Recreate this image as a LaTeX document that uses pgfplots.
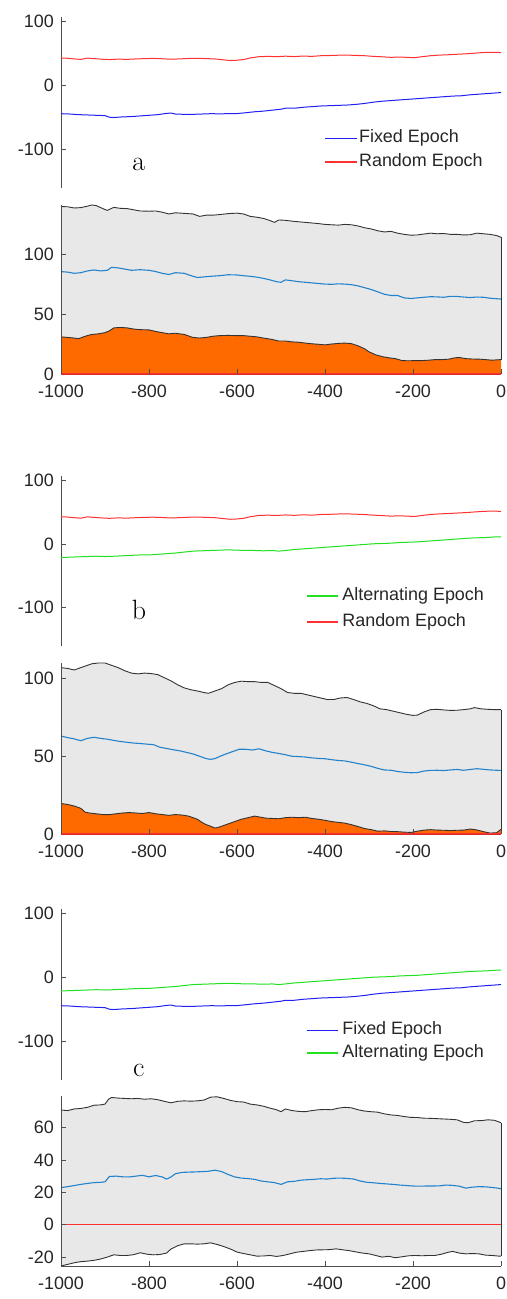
\documentclass[border=0pt]{standalone}
\usepackage{fontspec}
\usepackage{pgfplots}
\usepackage{pgfplotstable}
\pgfplotsset{compat=1.18}
\usepgfplotslibrary{fillbetween}
\newfontfamily\tickfont{Liberation Sans}
\definecolor{axgray}{HTML}{4D4D4D}
\definecolor{txtgray}{HTML}{262626}
\definecolor{gfill}{HTML}{E8E8E8}
\definecolor{orng}{HTML}{FF6A00}
\definecolor{midblue}{HTML}{2283CC}
\definecolor{edge}{HTML}{333333}
\definecolor{lblue}{HTML}{2020F0}
\definecolor{lred}{HTML}{FF3030}
\definecolor{lgreen}{HTML}{20E020}

% ---------- top panels ----------
\pgfplotstableread{
x y
-1000 -44
-980 -44.5
-960 -45.5
-940 -46
-920 -46.5
-900 -47
-890 -49.5
-880 -50
-860 -49
-840 -48.5
-820 -47.5
-800 -46.5
-780 -45.5
-760 -43.5
-750 -43
-740 -44.5
-720 -45
-700 -45
-680 -44.5
-660 -44
-640 -44.2
-620 -44
-600 -43.8
-580 -42.5
-560 -41
-540 -40
-520 -38.5
-500 -37
-490 -35.5
-470 -35.5
-450 -34
-430 -33
-410 -32
-390 -31.5
-370 -31
-350 -30.5
-330 -29.5
-310 -28
-290 -26
-270 -24.5
-250 -23.5
-230 -22.5
-210 -21.5
-190 -20.5
-170 -19.5
-150 -18.5
-130 -17.5
-110 -16.5
-90 -16
-70 -14.5
-50 -13.5
-30 -12.5
-10 -11.5
0 -11
}\fixedT
\pgfplotstableread{
x y
-1000 43
-985 42.5
-970 41.5
-955 40.8
-940 42.8
-925 42
-905 41
-890 40.5
-870 41.2
-850 40.8
-830 41.5
-810 42
-790 42.3
-770 41.8
-750 41
-730 41.6
-710 42.2
-690 42.5
-670 42
-650 41.5
-630 40
-615 39
-600 39.5
-585 40.5
-570 43
-550 45
-530 45.5
-510 45
-490 45.8
-470 45.2
-450 46
-430 45.5
-410 46.5
-390 46.8
-370 47.3
-350 47.5
-330 47
-310 46.5
-290 45.5
-270 44.8
-250 44
-230 44.5
-210 43.8
-195 43.5
-180 45
-160 46.5
-140 47.5
-120 48
-100 48.8
-80 49.5
-60 50.5
-40 51.5
-20 51.8
0 51.5
}\randomT
\pgfplotstableread{
x y
-1000 -21
-960 -20
-920 -19
-900 -19.5
-880 -19
-850 -18
-820 -17
-800 -17
-780 -16
-760 -15
-740 -14
-720 -12.5
-700 -11
-680 -10.5
-660 -10
-640 -9.5
-620 -9
-600 -9.5
-580 -10
-560 -10
-540 -10.5
-520 -10
-505 -11
-490 -10
-470 -8.5
-450 -7.5
-430 -6.5
-410 -5.5
-390 -4.5
-370 -3.5
-350 -2.5
-330 -1.5
-310 -0.5
-290 0.5
-270 1
-250 1.5
-230 2.5
-210 3
-190 3.5
-170 4.5
-150 5.5
-130 6.5
-110 7.5
-90 8.5
-70 9.5
-50 10
-30 10.5
-10 11.5
0 11.5
}\altT

% ---------- panel a bottom ----------
\pgfplotstableread{
x y
-1000 139.7
-985 139.5
-970 138.5
-955 138.8
-940 140
-930 141
-920 140.5
-905 138
-895 136.5
-880 139
-865 138.2
-850 138
-835 137
-820 136
-800 135.8
-785 136
-770 135
-755 133.5
-740 134.5
-720 134
-700 133.5
-685 131.5
-670 132.5
-655 132.5
-640 133
-620 133.8
-600 134.2
-585 133.5
-570 131.5
-555 130.8
-540 129.8
-525 128
-515 126.5
-505 128.5
-490 128.2
-475 127.5
-460 127
-445 126.5
-430 126
-415 125.5
-400 124.8
-385 124.5
-370 124.2
-355 124.8
-340 124.5
-325 123.5
-310 122
-295 121
-280 119.5
-265 118.5
-250 119
-235 117.5
-220 116.5
-205 115.8
-190 116
-175 116.8
-160 117.5
-145 117
-130 117.2
-115 116.5
-100 116.5
-85 116
-70 116.2
-55 117.5
-40 117
-25 116.5
-10 115.5
0 114
}\aUp
\pgfplotstableread{
x y
-1000 85.4
-985 85
-970 84
-955 84.5
-940 86
-925 86.8
-910 86
-895 86.5
-885 89
-870 88.5
-855 87.5
-840 86.5
-820 87
-800 86.5
-785 85.5
-770 84
-755 83
-740 84.5
-720 84
-700 81.5
-690 80.5
-675 81
-660 81.5
-640 82
-620 82.8
-600 82.6
-585 82
-570 81.5
-555 80.8
-540 79.8
-525 78.5
-510 77
-500 76.5
-490 78.5
-475 77.8
-460 77
-445 76.5
-430 76
-415 75.5
-400 75
-385 74.8
-370 75.2
-355 75
-340 74.5
-325 73.5
-310 72
-295 70.5
-280 68.5
-265 66.5
-250 65.5
-235 65.5
-220 63.5
-205 63
-190 63.5
-175 64
-160 64.5
-145 64.3
-130 64
-115 64.8
-100 64.7
-85 64.2
-70 63.8
-55 64.2
-40 64
-25 63.2
-10 62.8
0 62.5
}\aMid
\pgfplotstableread{
x y
-1000 31
-985 30.5
-970 30
-960 29.5
-945 31.5
-930 33
-915 33.5
-900 34.5
-890 36
-880 38.5
-865 38.8
-850 38.5
-835 37.5
-820 37
-800 36.8
-785 35.5
-770 34.5
-755 33.5
-740 34
-720 33
-700 30.5
-685 30
-670 30.5
-655 31.5
-640 32
-620 32.2
-600 32
-585 32
-570 31.5
-555 31
-540 30
-520 28.8
-505 27.5
-490 27.5
-475 26.8
-460 26.5
-445 25.8
-430 25.2
-415 24.8
-400 24.3
-385 25
-370 25.5
-355 25.8
-340 25.3
-325 23.5
-310 21
-300 18.5
-285 16
-270 14.5
-255 13.5
-240 12.8
-225 11.2
-210 11
-195 11.2
-180 11.2
-165 11.5
-150 12
-135 12
-120 12.3
-105 13.5
-95 13.8
-80 12.8
-65 12.5
-50 12.4
-35 12
-20 11.5
-10 11.8
0 12
}\aLo

% ---------- panel b bottom ----------
\pgfplotstableread{
x y
-1000 107
-985 106.5
-970 105.5
-960 106.5
-945 108
-930 109.5
-915 110
-900 110
-885 108.5
-870 107
-855 105
-840 103.5
-825 103
-810 103.5
-795 103.2
-780 102.5
-765 100.5
-750 98.5
-735 96
-720 94
-705 92.8
-690 92
-675 91
-665 90.5
-650 92
-635 93.5
-620 96
-605 97.5
-590 98.3
-575 98
-560 98
-545 97.5
-530 97.5
-515 95.5
-500 93.5
-485 91
-470 90.5
-455 90.5
-440 89.5
-425 88.5
-410 87.5
-395 86.5
-380 86.5
-365 87.5
-350 87.8
-335 86.5
-320 85
-305 84
-290 82.5
-275 80.5
-260 80
-245 79
-230 78
-215 77
-200 76.3
-190 76.5
-175 78.5
-160 80
-145 80.2
-130 79.8
-115 79.5
-100 79.6
-85 80
-70 80.5
-60 81.3
-45 80.5
-30 80.2
-15 80
0 80
}\bUp
\pgfplotstableread{
x y
-1000 63
-985 62
-970 61.2
-955 60
-940 61.5
-925 62.2
-910 61.5
-895 61
-880 60.2
-865 59.5
-850 59
-835 58.5
-820 58.2
-805 57.8
-790 57.5
-775 55.8
-760 55
-745 54.2
-730 53.5
-715 52.5
-700 51.5
-685 50
-670 48.5
-660 48
-650 48.5
-640 49.8
-625 51.5
-610 53
-595 54.5
-580 54.5
-565 54
-550 54.8
-535 53.5
-520 52.5
-505 51.8
-490 51
-475 50
-460 49.8
-445 49.5
-430 49
-415 48.6
-400 48.4
-385 47.8
-370 47.3
-355 47
-340 46.2
-325 45.3
-310 44.5
-295 43.5
-280 42.2
-265 41.2
-250 41
-235 40.2
-220 39.7
-205 39.4
-190 39.5
-175 40.5
-160 40.9
-145 41
-130 40.8
-115 41.2
-100 41.5
-85 41
-70 41.5
-55 42
-40 41.6
-25 41.2
-10 41
0 40.9
}\bMid
\pgfplotstableread{
x y
-1000 19.6
-985 19
-970 18
-955 16.5
-945 14
-935 13.5
-920 13
-905 12.5
-890 12.5
-875 13
-860 13.5
-845 13.8
-830 13.5
-815 13.2
-800 13.8
-785 13
-770 12.5
-755 12
-740 12.5
-725 12.2
-710 11.5
-700 10.5
-690 9.5
-680 7.5
-670 6
-660 5
-650 3.8
-640 4.5
-630 5.5
-620 6.5
-605 8
-590 9.5
-575 10.5
-560 11.5
-550 11
-535 10.2
-520 10
-505 9.8
-490 10.5
-475 10.8
-460 10.5
-445 10.8
-430 10
-415 9.5
-400 8.8
-385 8
-370 7.5
-355 7
-340 6
-325 4.8
-310 3.5
-295 2.8
-280 1.8
-265 2
-250 1.6
-235 1.5
-220 1.2
-205 1
-190 1.8
-175 2.5
-160 2.8
-145 2.5
-130 2.4
-115 2.2
-100 2.4
-85 2.5
-70 3.2
-55 2.6
-40 1.5
-25 0.6
-10 0.8
0 3
}\bLo

% ---------- panel c bottom ----------
\pgfplotstableread{
x y
-1000 70.8
-985 70.5
-970 71.5
-955 71.8
-940 72.5
-925 73.8
-910 74
-900 74.5
-892 77.5
-885 78.6
-870 78.2
-855 78
-840 77.8
-825 78
-810 77.5
-795 77.8
-780 77.2
-765 76.2
-750 75.3
-735 76.2
-720 76.5
-705 76.3
-690 76.5
-675 77
-660 78.8
-645 79
-630 78
-615 76.8
-600 76
-585 75.8
-570 74.5
-555 74
-540 73.2
-525 72
-510 71
-500 69.8
-490 71.5
-475 70.5
-460 70
-445 69.8
-430 70.5
-415 71
-400 71.2
-385 71
-370 72
-355 72.5
-340 72.2
-325 71
-310 70.2
-295 69.8
-280 69.5
-265 68.5
-250 67.8
-235 67.5
-220 66.8
-205 66.3
-190 66.2
-175 65.8
-160 65.7
-145 65.5
-130 65.3
-115 65.1
-100 64.8
-85 63.2
-75 63
-60 64.2
-45 64.3
-30 64.8
-15 64.5
0 63
}\cUp
\pgfplotstableread{
x y
-1000 22.9
-985 23.5
-970 24.2
-955 24.9
-940 25.5
-925 26
-910 26.2
-900 26.5
-890 29.8
-875 30
-860 29.6
-845 29.5
-830 30
-815 30.5
-800 29.6
-785 30.4
-770 29.5
-760 28.2
-750 29.5
-740 31.5
-725 32.3
-710 32.5
-695 32.6
-680 32.8
-665 33
-650 33.7
-635 32.8
-620 31
-605 29.5
-590 28.8
-575 28.5
-560 28
-545 27
-530 26.5
-515 26
-500 24.9
-485 26.5
-470 26.8
-455 27.5
-440 27.8
-425 28
-410 28.4
-395 28.2
-380 28.7
-365 28.8
-350 28.6
-335 28.2
-320 27
-305 26.2
-290 25.9
-275 25.5
-260 25.2
-245 24.9
-230 24.5
-215 24.2
-200 23.9
-185 23.8
-170 23.9
-155 23.9
-140 24
-125 24.5
-110 24.3
-95 23.8
-80 22.6
-65 23.2
-50 23.5
-35 23.4
-20 23
-5 22.5
0 22.2
}\cMid
\pgfplotstableread{
x y
-1000 -25.5
-985 -24.5
-970 -23.5
-955 -22.8
-940 -22.5
-925 -22
-910 -21.2
-895 -20
-880 -18.6
-865 -19
-850 -19
-835 -18.5
-820 -17.3
-805 -18.2
-790 -18.6
-775 -18.4
-760 -17.5
-750 -15
-735 -13
-720 -11.8
-705 -11.8
-690 -12
-675 -11.8
-660 -11.2
-645 -12.2
-630 -13.5
-615 -15
-600 -16.9
-585 -17.8
-570 -18.6
-555 -19.4
-540 -19.3
-525 -19
-510 -19.6
-495 -19
-480 -18
-465 -17
-450 -16.5
-435 -16
-420 -15.6
-405 -15.5
-390 -15.4
-375 -14.9
-360 -15.5
-345 -16
-330 -16.8
-315 -17.5
-300 -18
-285 -19
-270 -20
-255 -19.5
-240 -20.4
-225 -19.8
-210 -19.2
-195 -19
-180 -19.2
-165 -19
-150 -19
-135 -18.2
-120 -17
-110 -16.5
-95 -17.5
-80 -18
-65 -17.8
-50 -18
-35 -18.8
-20 -19
-5 -19.4
0 -19.4
}\cLo

\pgfplotsset{
  base/.style={
    scale only axis, width=440bp, anchor=south west,
    xmin=-1000, xmax=0, clip=false,
    axis line style={axgray, line width=0.8bp},
    tick style={axgray, line width=0.8bp},
    tick align=inside, major tick length=5bp,
    tick label style={font=\tickfont\fontsize{18}{20}\selectfont, text=txtgray},
    yticklabel style={anchor=east, inner sep=0pt, xshift=-7bp},
    xticklabel style={anchor=north, inner sep=0pt, yshift=-11bp},
  },
  toppanel/.style={
    base, height=171bp, ymin=-160, ymax=107,
    axis x line=none, axis y line*=left, xtick=\empty,
    ytick={-100,0,100}, yticklabels={-100,0,100},
  },
  botpanel/.style={
    base, axis on top,
    axis x line*=bottom, axis y line*=left,
    xtick={-1000,-800,-600,-400,-200,0},
    xticklabels={-1000,-800,-600,-400,-200,0},
  },
}
\tikzset{
  legtext/.style={anchor=west, inner sep=0pt, font=\tickfont\fontsize{18}{20}\selectfont, text=txtgray},
  letter/.style={anchor=base, font=\fontsize{28}{30}\selectfont},
}

\begin{document}
\begin{tikzpicture}
\path (0bp,0bp) rectangle (507bp,1299bp);

% ===== a top =====
\begin{axis}[toppanel, at={(61bp,1111bp)}]
\addplot[lblue, line width=1bp] table {\fixedT};
\addplot[lred, line width=1bp] table {\randomT};
% legend
\draw[lblue, line width=1.1bp] (rel axis cs:0.600,0.292) -- (rel axis cs:0.673,0.292);
\node[legtext] at (rel axis cs:0.677,0.292) {Fixed Epoch};
\draw[lred, line width=1.1bp] (rel axis cs:0.600,0.152) -- (rel axis cs:0.673,0.152);
\node[legtext] at (rel axis cs:0.677,0.152) {Random Epoch};
\node[letter] at (rel axis cs:0.177,0.105) {a};
\end{axis}

% ===== a bottom =====
\begin{axis}[botpanel, at={(61bp,925bp)}, height=169bp, ymin=0, ymax=141,
  ytick={0,50,100}, yticklabels={0,50,100},
  x axis line style={draw=lred!85!black}]
\addplot[name path=aup, draw=none, forget plot] table {\aUp};
\addplot[name path=alo, draw=none, forget plot] table {\aLo};
\addplot[gfill] fill between[of=aup and alo];
\addplot[fill=orng, draw=none] table {\aLo} \closedcycle;
\addplot[edge, line width=0.9bp] table {\aUp};
\addplot[edge, line width=0.9bp] table {\aLo};
\addplot[edge, line width=0.9bp] coordinates {(0,12) (0,114)};
\addplot[midblue, line width=1.1bp] table {\aMid};
\addplot[lred, line width=1bp] coordinates {(-1000,0) (0,0)};
\end{axis}

% ===== b top =====
\begin{axis}[toppanel, at={(61bp,653bp)}, height=170bp]
\addplot[lgreen, line width=1bp] table {\altT};
\addplot[lred, line width=1bp] table {\randomT};
\draw[lgreen, line width=1.1bp] (rel axis cs:0.559,0.294) -- (rel axis cs:0.630,0.294);
\node[legtext] at (rel axis cs:0.639,0.294) {Alternating Epoch};
\draw[lred, line width=1.1bp] (rel axis cs:0.559,0.141) -- (rel axis cs:0.630,0.141);
\node[legtext] at (rel axis cs:0.639,0.141) {Random Epoch};
\node[letter] at (rel axis cs:0.177,0.153) {b};
\end{axis}

% ===== b bottom =====
\begin{axis}[botpanel, at={(61bp,465bp)}, height=171bp, ymin=0, ymax=110,
  ytick={0,50,100}, yticklabels={0,50,100},
  x axis line style={draw=lred!85!black}]
\addplot[name path=bup, draw=none, forget plot] table {\bUp};
\addplot[name path=blo, draw=none, forget plot] table {\bLo};
\addplot[gfill] fill between[of=bup and blo];
\addplot[fill=orng, draw=none] table {\bLo} \closedcycle;
\addplot[edge, line width=0.9bp] table {\bUp};
\addplot[edge, line width=0.9bp] table {\bLo};
\addplot[edge, line width=0.9bp] coordinates {(0,3) (0,80)};
\addplot[midblue, line width=1.1bp] table {\bMid};
\addplot[lred, line width=1bp] coordinates {(-1000,0) (0,0)};
\end{axis}

% ===== c top =====
\begin{axis}[toppanel, at={(61bp,219bp)}]
\addplot[lblue, line width=1bp] table {\fixedT};
\addplot[lgreen, line width=1bp] table {\altT};
\draw[lblue, line width=1.1bp] (rel axis cs:0.559,0.292) -- (rel axis cs:0.630,0.292);
\node[legtext] at (rel axis cs:0.639,0.292) {Fixed Epoch};
\draw[lgreen, line width=1.1bp] (rel axis cs:0.559,0.158) -- (rel axis cs:0.630,0.158);
\node[legtext] at (rel axis cs:0.639,0.158) {Alternating Epoch};
\node[letter] at (rel axis cs:0.177,0.018) {c};
\end{axis}

% ===== c bottom =====
\begin{axis}[botpanel, at={(61bp,33bp)}, height=170bp, ymin=-25.5, ymax=79.5,
  ytick={-20,0,20,40,60}, yticklabels={-20,0,20,40,60}]
\addplot[name path=cup, draw=none, forget plot] table {\cUp};
\addplot[name path=clo, draw=none, forget plot] table {\cLo};
\addplot[gfill] fill between[of=cup and clo];
\addplot[edge, line width=0.9bp] table {\cUp};
\addplot[edge, line width=0.9bp] table {\cLo};
\addplot[edge, line width=0.9bp] coordinates {(0,-19.4) (0,63)};
\addplot[midblue, line width=1.1bp] table {\cMid};
\addplot[lred, line width=1.3bp] coordinates {(-1000,0) (0,0)};
\end{axis}
\end{tikzpicture}
\end{document}
